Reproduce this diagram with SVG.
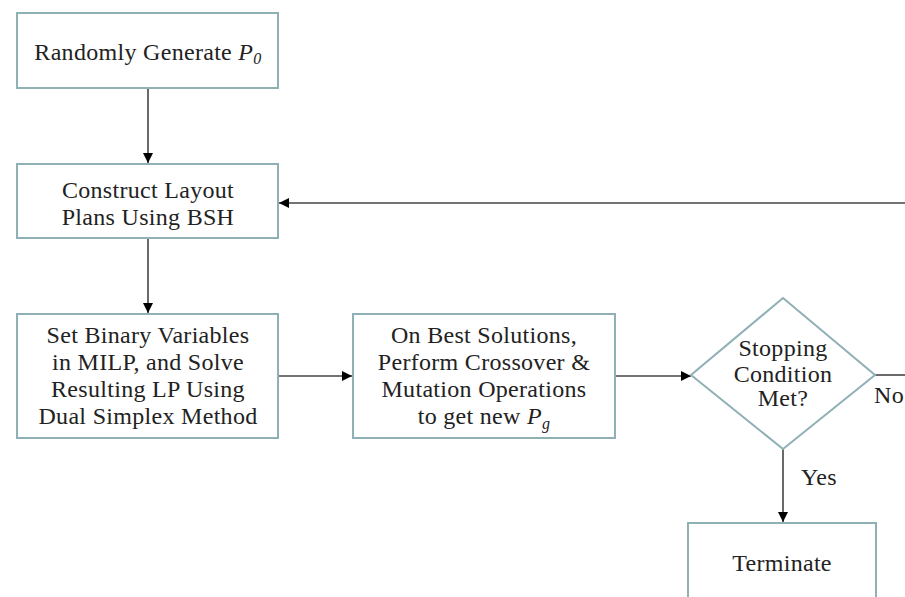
<svg xmlns="http://www.w3.org/2000/svg" width="905" height="597" viewBox="0 0 905 597">
<defs>
<marker id="ah" viewBox="0 0 10 10" refX="10" refY="5" markerWidth="10" markerHeight="10" markerUnits="userSpaceOnUse" orient="auto">
<path d="M0,0 L10,5 L0,10 z" fill="#000"/>
</marker>
<style>
.box{fill:#fff;stroke:#8fb0b5;stroke-width:2}
.t{font-family:"Liberation Serif","DejaVu Serif",serif;font-size:24px;letter-spacing:0.3px;fill:#222;text-anchor:middle}
.ln{fill:none;stroke:#444;stroke-width:1.6}
</style>
</defs>
<rect width="905" height="597" fill="#fff"/>
<g id="connectors">
<line class="ln" x1="148" y1="88" x2="148" y2="163" marker-end="url(#ah)"/>
<line class="ln" x1="148" y1="238" x2="148" y2="313" marker-end="url(#ah)"/>
<line class="ln" x1="278" y1="376" x2="352" y2="376" marker-end="url(#ah)"/>
<line class="ln" x1="615" y1="376" x2="691" y2="376" marker-end="url(#ah)"/>
<line class="ln" x1="875" y1="375" x2="905" y2="375"/>
<line class="ln" x1="905" y1="203" x2="279" y2="203" marker-end="url(#ah)"/>
<line class="ln" x1="783" y1="449" x2="783" y2="522" marker-end="url(#ah)"/>
<text class="t" x="889" y="403">No</text>
<text class="t" x="819" y="485">Yes</text>
</g>
<g id="n1">
<rect class="box" x="17" y="13" width="261" height="75"/>
<text class="t" x="148" y="60">Randomly Generate <tspan font-style="italic">P</tspan><tspan font-style="italic" font-size="16" dy="4">0</tspan></text>
</g>
<g id="n2">
<rect class="box" x="17" y="164" width="261" height="74"/>
<text class="t" x="148" y="198">Construct Layout</text>
<text class="t" x="148" y="225">Plans Using BSH</text>
</g>
<g id="n3">
<rect class="box" x="17" y="314" width="261" height="124"/>
<text class="t" x="148" y="343">Set Binary Variables</text>
<text class="t" x="148" y="370">in MILP, and Solve</text>
<text class="t" x="148" y="397">Resulting LP Using</text>
<text class="t" x="148" y="424">Dual Simplex Method</text>
</g>
<g id="n4">
<rect class="box" x="353" y="314" width="262" height="124"/>
<text class="t" x="484" y="343">On Best Solutions,</text>
<text class="t" x="484" y="370">Perform Crossover &amp;</text>
<text class="t" x="484" y="397">Mutation Operations</text>
<text class="t" x="484" y="424">to get new <tspan font-style="italic">P</tspan><tspan font-style="italic" font-size="16" dy="5">g</tspan></text>
</g>
<g id="n5">
<polygon class="box" points="783,298 875,375 783,449 691,375"/>
<text class="t" x="783" y="356">Stopping</text>
<text class="t" x="783" y="382">Condition</text>
<text class="t" x="783" y="406">Met?</text>
</g>
<g id="n6">
<rect class="box" x="688" y="523" width="188" height="90"/>
<text class="t" x="782" y="571">Terminate</text>
</g>
</svg>
